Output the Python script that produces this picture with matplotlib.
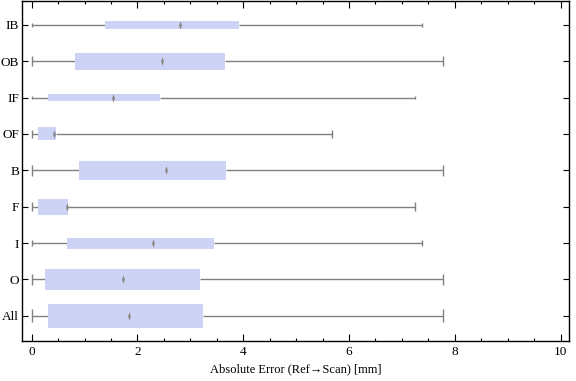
import numpy as np
from matplotlib import pyplot as plt
from matplotlib.ticker import MultipleLocator

plt.rcParams['font.family'] = ['Liberation Serif', 'DejaVu Serif']

# categories from bottom to top
groups = ['All', 'O', 'I', 'F', 'B', 'OF', 'IF', 'OB', 'IB']
mins = [0.0, 0.0, 0.0, 0.0, 0.0, 0.0, 0.0, 0.0, 0.0]
q1 = [0.31, 0.25, 0.67, 0.12, 0.90, 0.12, 0.31, 0.82, 1.39]
q3 = [3.24, 3.18, 3.44, 0.69, 3.68, 0.46, 2.42, 3.65, 3.92]
maxs = [7.77, 7.77, 7.37, 7.24, 7.77, 5.68, 7.25, 7.77, 7.38]
means = [1.84, 1.72, 2.29, 0.67, 2.54, 0.42, 1.54, 2.47, 2.80]
# box thickness differs per group
thick = [0.66, 0.58, 0.30, 0.44, 0.52, 0.36, 0.19, 0.47, 0.22]

fig, ax = plt.subplots(figsize=(5.76, 3.81), dpi=100)
fig.subplots_adjust(left=0.038, right=0.988, top=0.998, bottom=0.106)

ypos = np.arange(1, len(groups) + 1)
grey = '#808080'

# whiskers
ax.hlines(ypos, mins, q1, color=grey, lw=1.0, zorder=1)
ax.hlines(ypos, q3, maxs, color=grey, lw=1.0, zorder=1)
caps = np.array(thick) * 0.55
ax.vlines(mins, ypos - caps / 2, ypos + caps / 2, color=grey, lw=1.0)
ax.vlines(maxs, ypos - caps / 2, ypos + caps / 2, color=grey, lw=1.0)

# boxes
ax.barh(ypos, np.array(q3) - np.array(q1), left=q1, height=thick,
        color='#cdd3f5', edgecolor='none', zorder=2)

# mean markers (thin grey diamonds)
thin_diamond = [(0, -1), (0.35, 0), (0, 1), (-0.35, 0), (0, -1)]
ax.plot(means, ypos, linestyle='none', marker=thin_diamond, markersize=6,
        markeredgewidth=0, color='#888888', zorder=3)

ax.set_xlim(-0.185, 10.16)
ax.set_ylim(0.32, 9.66)
ax.set_yticks(ypos)
ax.set_yticklabels(groups)
ax.xaxis.set_major_locator(MultipleLocator(2))
ax.xaxis.set_minor_locator(MultipleLocator(0.5))
ax.tick_params(axis='both', which='both', direction='in', top=True, right=True,
               labelsize=9.5, width=0.8)
ax.tick_params(axis='x', which='major', length=5, pad=4)
ax.tick_params(axis='x', which='minor', length=2.5)
ax.tick_params(axis='y', which='major', length=4, pad=2)
for s in ax.spines.values():
    s.set_linewidth(1.0)

ax.set_xlabel('Absolute Error (Ref\u2192Scan) [mm]', fontsize=9, labelpad=4)

plt.savefig('out.png', dpi=100)
